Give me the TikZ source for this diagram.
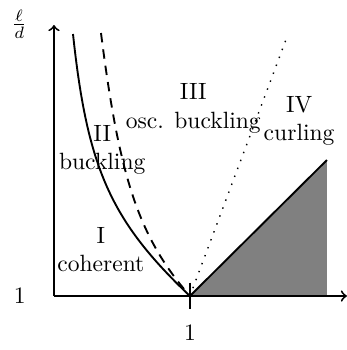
\documentclass[tikz,border=0pt]{standalone}
\begin{document}
\begin{tikzpicture}
    \useasboundingbox (-0.806,-0.806) rectangle (4.375,4.42);
    % Zona IV
    \fill[gray] (2.03,0) -- (4.076,2.031) -- (4.076,0) -- cycle;
    \draw[thick] (2.03,0) -- (4.076,2.031);
    % Ejes
    \draw[thick, ->] (0,0) -- (4.375,0);
    \draw[thick, ->] (0,0) -- (0,4.047);
    \draw[thick] (2.03,0.2) -- (2.03,-0.2);
    \node (xone) at (2.03,-0.55) {1};
    \node (yone) at (-0.51,0) {1};
    \node (ratio) at (-0.52,4.06) {$\frac{\ell}{d}$};
    % Curvas
    \draw[thick] (0.284,3.912) .. controls (0.498,1.905) and (0.848,1.122) .. (2.03,0);
    \draw[thick, dash pattern=on 4pt off 3pt] (0.702,3.927) .. controls (0.98,1.735) and (1.273,0.871) .. (2.03,0);
    \draw[dash pattern=on 0.6pt off 3pt, line width=0.6pt] (2.03,0) -- (3.479,3.867);
    % Etiquetas
    \node[align=center] (zoneI) at (0.7,0.69) {I\\coherent};
    \node[align=center] (zoneII) at (0.72,2.18) {II\\buckling};
    \node[align=center] (zoneIII) at (2.08,2.8) {III\\osc. buckling};
    \node[align=center] (zoneIV) at (3.66,2.61) {IV\\curling};
\end{tikzpicture}
\end{document}
